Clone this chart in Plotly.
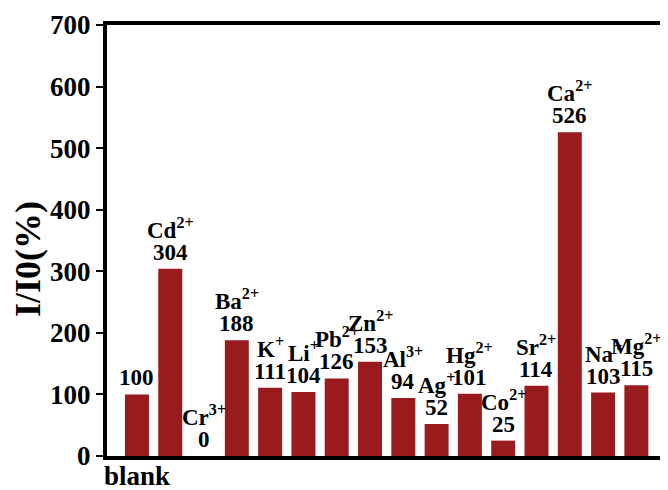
import plotly.graph_objects as go

ions = ["", "Cd<sup>2+</sup>", "Cr<sup>3+</sup>", "Ba<sup>2+</sup>", "K<sup>+</sup>", "Li<sup>+</sup>",
        "Pb<sup>2+</sup>", "Zn<sup>2+</sup>", "Al<sup>3+</sup>", "Ag<sup>+</sup>", "Hg<sup>2+</sup>",
        "Co<sup>2+</sup>", "Sr<sup>2+</sup>", "Ca<sup>2+</sup>", "Na<sup>+</sup>", "Mg<sup>2+</sup>"]
values = [100, 304, 0, 188, 111, 104, 126, 153, 94, 52, 101, 25, 114, 526, 103, 115]
positions = list(range(len(values)))
tick_labels = ["blank"]
y_ticks = [0, 100, 200, 300, 400, 500, 600, 700]

BAR = "#991B1E"
FONT = "Liberation Serif"

fig = go.Figure()
fig.add_trace(go.Bar(x=positions, y=values, width=0.72, marker=dict(color=BAR, line=dict(width=0)),
                     hoverinfo="skip"))

ann = []
for x, v, ion in zip(positions, values, ions):
    ann.append(dict(x=x, y=v, xref="x", yref="y", text=str(v), showarrow=False,
                    yanchor="bottom", xanchor="center", yshift=2,
                    font=dict(family=FONT, size=23, color="black", weight="bold")))
    if ion:
        ann.append(dict(x=x, y=v, xref="x", yref="y", text=ion, showarrow=False,
                        yanchor="bottom", xanchor="center", yshift=24,
                        font=dict(family=FONT, size=23, color="black", weight="bold")))

# x-axis label for the first category
ann.append(dict(x=positions[0], y=0, xref="x", yref="paper", text=tick_labels[0], showarrow=False,
                xanchor="center", yanchor="middle", yshift=-20, borderpad=0,
                font=dict(family=FONT, size=27, color="black", weight="bold")))

ann.append(dict(x=-0.142, y=0.457, xref="paper", yref="paper", text="I/I0(%)", textangle=-90,
                showarrow=False, xanchor="center", yanchor="middle", borderpad=0,
                font=dict(family=FONT, size=36, color="black", weight="bold")))

# the page body has an 8px margin, so the figure is sized and placed to compensate
fig.update_layout(
    width=660, height=482,
    margin=dict(l=99, r=4, t=17, b=34, autoexpand=False),
    paper_bgcolor="white", plot_bgcolor="white",
    showlegend=False, annotations=ann,
    xaxis=dict(range=[-0.9, 15.83], showticklabels=False, ticks="",
               showline=True, linewidth=4, linecolor="black", mirror=True, showgrid=False,
               zeroline=False, fixedrange=True, automargin=False),
    yaxis=dict(range=[0, 700], tickvals=y_ticks, ticks="outside", ticklen=7, tickwidth=2,
               tickcolor="black", showline=True, linewidth=4, linecolor="black", mirror=True,
               showgrid=False, zeroline=False, fixedrange=True, automargin=False,
               tickfont=dict(family=FONT, size=27, color="black", weight="bold")),
)

fig.write_html("out.html")
